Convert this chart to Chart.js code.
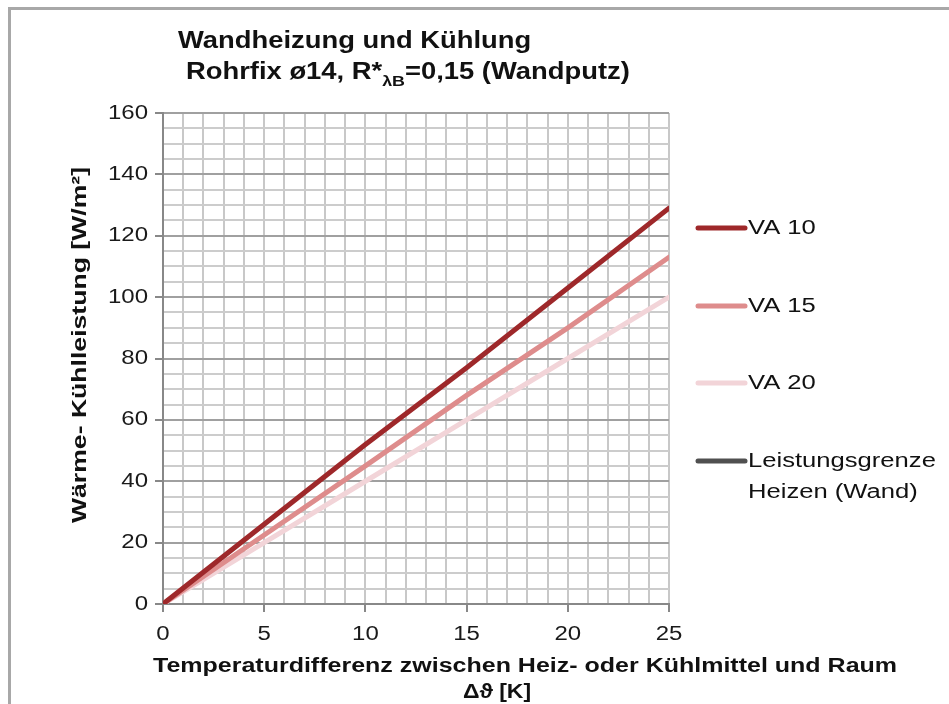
<!DOCTYPE html>
<html>
<head>
<meta charset="utf-8">
<script src="https://cdn.jsdelivr.net/npm/chart.js@4.4.1/dist/chart.umd.min.js"></script>
<style>
  html, body { margin: 0; padding: 0; background: #fff; }
  #wrap { position: relative; width: 949px; height: 704px; overflow: hidden; }
  #frame { position: absolute; left: 8px; top: 7px; width: 1000px; height: 800px;
           border-left: 3px solid #a8a8a8; border-top: 3px solid #a8a8a8; }
  canvas { position: absolute; left: 0; top: 0; }
</style>
</head>
<body>
<div id="wrap">
  <div id="frame"></div>
  <canvas id="myChart" width="949" height="704"></canvas>
</div>
<script>
var temps = [0, 5, 10, 15, 20, 25];
var va10 = [0, 26, 52, 77, 103, 129];
var va15 = [0, 22.5, 45, 68, 90, 113];
var va20 = [0, 20, 40, 60, 80, 100];
var seriesNames = ["VA 10", "VA 15", "VA 20", "Leistungsgrenze\nHeizen (Wand)"];
var seriesColors = ["rgb(158,40,42)", "rgb(222,140,140)", "rgb(242,212,216)", "rgb(80,80,80)"];

function points(vals) {
  return vals.map(function (v, i) { return { x: temps[i], y: v }; });
}

var FONT = "'Liberation Sans', Arial, sans-serif";

// the source picture has wide-looking text, so stretch it horizontally
function wideText(ctx, text, x, y, sx, align) {
  ctx.save();
  ctx.translate(x, y);
  ctx.scale(sx, 1);
  ctx.textAlign = align || "left";
  ctx.fillText(text, 0, 0);
  ctx.restore();
}

var labelPlugin = {
  id: "labels",
  afterDraw: function (chart) {
    var ctx = chart.ctx;
    ctx.save();
    ctx.fillStyle = "#111";
    ctx.textBaseline = "middle";

    // title
    var ts = 1.19;
    ctx.font = "bold 23px " + FONT;
    wideText(ctx, "Wandheizung und Kühlung", 178, 42, ts);
    var x = 186, y = 73;
    wideText(ctx, "Rohrfix ø14, R*", x, y, ts);
    x += ctx.measureText("Rohrfix ø14, R*").width * ts;
    ctx.font = "bold 15px " + FONT;
    wideText(ctx, "λB", x, y + 9, ts);
    x += ctx.measureText("λB").width * ts;
    ctx.font = "bold 23px " + FONT;
    wideText(ctx, "=0,15 (Wandputz)", x, y, ts);

    // tick labels
    ctx.font = "20px " + FONT;
    ctx.fillStyle = "#1a1a1a";
    var ys = chart.scales.y, xs = chart.scales.x;
    ys.ticks.forEach(function (t) {
      if (t.value % 20 === 0) wideText(ctx, String(t.value), 148, ys.getPixelForValue(t.value), 1.2, "right");
    });
    xs.ticks.forEach(function (t) {
      if (t.value % 5 === 0) wideText(ctx, String(t.value), xs.getPixelForValue(t.value), 634, 1.2, "center");
    });

    // axis titles
    ctx.fillStyle = "#111";
    ctx.font = "bold 20px " + FONT;
    wideText(ctx, "Temperaturdifferenz zwischen Heiz- oder Kühlmittel und Raum", 525, 666, 1.25, "center");
    wideText(ctx, "Δϑ [K]", 497, 692, 1.15, "center");

    ctx.save();
    ctx.translate(80, 345);
    ctx.rotate(-Math.PI / 2);
    wideText(ctx, "Wärme- Kühlleistung [W/m²]", 0, 0, 1.33, "center");
    ctx.restore();

    // legend
    var rows = [228, 306, 383, 461];
    ctx.font = "20px " + FONT;
    chart.data.datasets.forEach(function (ds, i) {
      ctx.strokeStyle = ds.borderColor;
      ctx.lineWidth = 5;
      ctx.lineCap = "round";
      ctx.beginPath();
      ctx.moveTo(698, rows[i]);
      ctx.lineTo(745, rows[i]);
      ctx.stroke();
      ctx.fillStyle = "#111";
      ds.label.split("\n").forEach(function (line, k) {
        wideText(ctx, line, 748, rows[i] + k * 31, 1.28);
      });
    });
    ctx.restore();
  }
};

var data = {
  datasets: [
    { label: seriesNames[0], data: points(va10), borderColor: seriesColors[0] },
    { label: seriesNames[1], data: points(va15), borderColor: seriesColors[1] },
    { label: seriesNames[2], data: points(va20), borderColor: seriesColors[2] },
    { label: seriesNames[3], data: [], borderColor: seriesColors[3] }
  ]
};

var config = {
  type: "line",
  data: data,
  plugins: [labelPlugin],
  options: {
    responsive: false,
    animation: false,
    layout: { padding: { left: 0, right: 280, top: 113, bottom: 0 } },
    elements: {
      line: { borderWidth: 5, tension: 0, fill: false, borderCapStyle: "round" },
      point: { radius: 0 }
    },
    plugins: { legend: { display: false }, title: { display: false }, tooltip: { enabled: false } },
    scales: {
      x: {
        type: "linear",
        min: 0,
        max: 25,
        afterFit: function (s) { s.height = 100; },
        ticks: {
          stepSize: 1,
          autoSkip: false,
          maxRotation: 0,
          color: "rgba(0,0,0,0)",
          font: { family: FONT, size: 19 },
          callback: function (v) { return v % 5 === 0 ? v : ""; }
        },
        grid: {
          color: function (c) { return c.tick && c.tick.value === 0 ? "#888" : "#c8c8c8"; },
          lineWidth: 2,
          tickLength: 8,
          tickColor: function (c) { return c.tick && c.tick.value % 5 === 0 ? "#888" : "rgba(0,0,0,0)"; }
        },
        border: { color: "#888", width: 2 }
      },
      y: {
        min: 0,
        max: 160,
        afterFit: function (s) { s.width = 163; },
        ticks: {
          stepSize: 5,
          autoSkip: false,
          color: "rgba(0,0,0,0)",
          font: { family: FONT, size: 19 },
          callback: function (v) { return v % 20 === 0 ? v : ""; }
        },
        grid: {
          color: function (c) { return c.tick && c.tick.value % 20 === 0 ? "#a0a0a0" : "#cccccc"; },
          lineWidth: 2,
          tickLength: 8,
          tickColor: function (c) { return c.tick && c.tick.value % 20 === 0 ? "#888" : "rgba(0,0,0,0)"; }
        },
        border: { color: "#888", width: 2 }
      }
    }
  }
};

var myChart = new Chart(document.getElementById("myChart"), config);
</script>
</body>
</html>
